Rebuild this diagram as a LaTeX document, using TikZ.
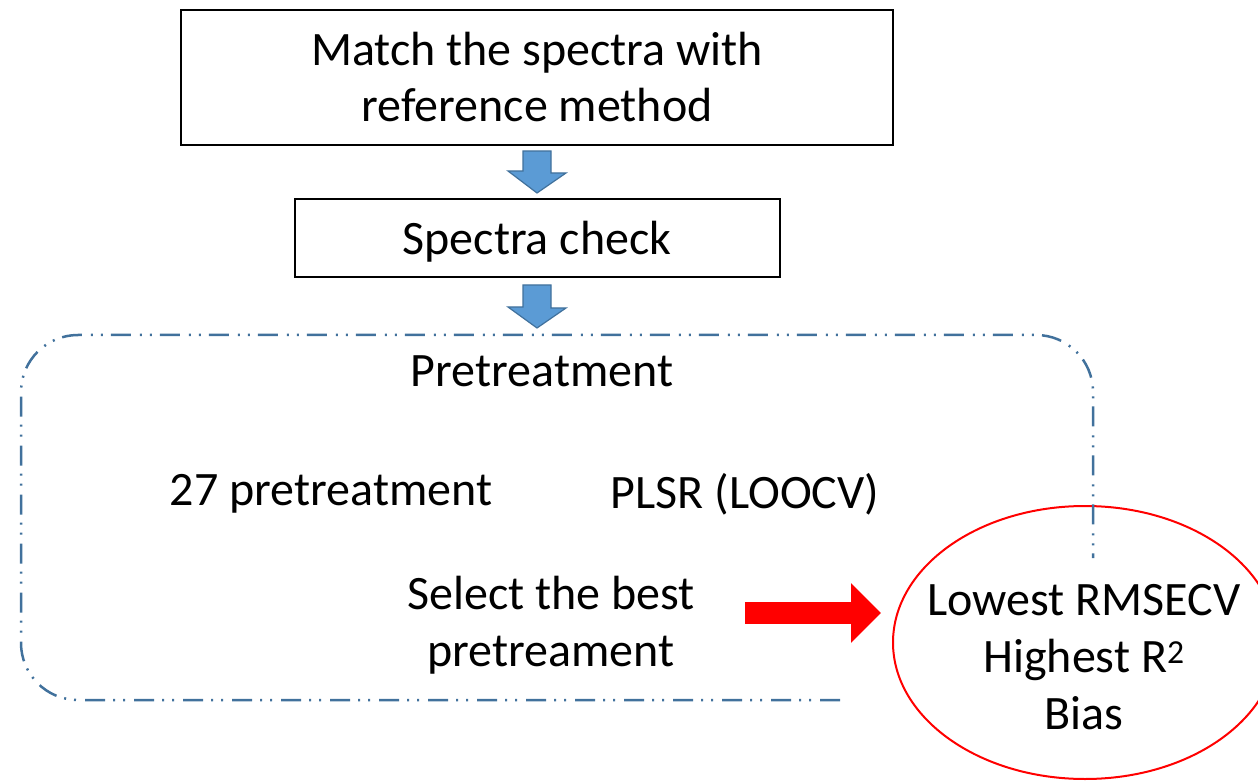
\documentclass[tikz,border=0pt]{standalone}
\usepackage{fontspec}
\setmainfont{Carlito}
\usetikzlibrary{arrows.meta,shapes.geometric,calc}
\definecolor{arrowblue}{RGB}{91,155,213}
\definecolor{edgeblue}{RGB}{65,113,156}
\begin{document}
\begin{tikzpicture}[x=1pt,y=-1pt,font=\fontsize{48}{56}\selectfont]
  \tikzstyle{box}=[draw,line width=2pt,align=center,inner sep=0pt]
  \tikzstyle{txt}=[align=center,inner sep=0pt]
  \tikzstyle{bluearr}=[fill=arrowblue,draw=edgeblue,line width=1.2pt,line join=miter]
  \tikzstyle{frame}=[draw=edgeblue,line width=2.5pt,rounded corners=57pt,
    dash pattern=on 20pt off 9pt on 2pt off 8pt on 2pt off 8pt]
  \tikzstyle{redarr}=[draw=red,line width=22pt,-{Triangle[length=30pt,width=58pt]}]
  \useasboundingbox (0,0) rectangle (1258,783);
  \node[box,minimum width=712pt,minimum height=135pt] (match) at (537,77.5) {Match the spectra with\\reference method};
  \node[box,minimum width=485pt,minimum height=78pt,text depth=0pt] (check) at (537,238) {Spectra check};
  \coordinate (ftop) at (537,335);
  \node[txt] (pre) at (542,371) {Pretreatment};
  \node[txt] (n27) at (331,494) {27 pretreatment};
  \node[txt] (plsr) at (745,494) {PLSR (LOOCV)};
  \node[txt,font=\fontsize{48}{57}\selectfont] (sel) at (551,625) {Select the best\\pretreament};
  \node[ellipse,draw=red,line width=2pt,minimum width=384pt,minimum height=273pt] (crit) at (1085,642.5) {};
  \node[txt,font=\fontsize{48}{57}\selectfont] (crittxt) at (1084,657) {Lowest RMSECV\\Highest R\textsuperscript{2}\\Bias};
  % dash-dot frame, open at the ellipse
  \draw[frame] (840,700) -- (21,700) -- (21,335) -- (1093,335) -- (1093,558);
  % block arrows
  \draw[bluearr] ([xshift=-14pt,yshift=-5pt]match.south) -- ++(28,0) -- ++(0,22) -- ++(15,0)
    -- ([yshift=5pt]check.north) -- ++(-29,-22) -- ++(15,0) -- cycle;
  \draw[bluearr] ([xshift=-14pt,yshift=-7pt]check.south) -- ++(28,0) -- ++(0,23) -- ++(15,0)
    -- ([yshift=7pt]ftop) -- ++(-29,-21) -- ++(15,0) -- cycle;
  \draw[redarr,shorten <=50pt,shorten >=11pt] ([yshift=12pt]sel.east) -- ([yshift=12pt]sel.east -| crit.west);
\end{tikzpicture}
\end{document}
